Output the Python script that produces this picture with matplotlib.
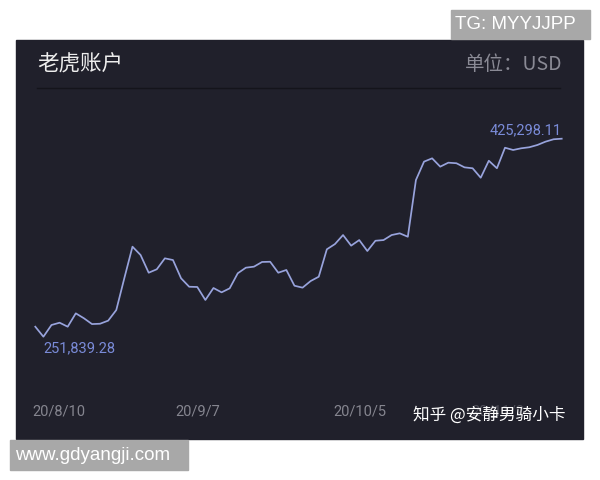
import matplotlib
matplotlib.use("Agg")
import matplotlib.pyplot as plt
from matplotlib.patches import Rectangle
from matplotlib.lines import Line2D

# account value in thousands of USD, one point per trading day
balance = [
    260.6, 251.84, 262.1, 264.1, 260.6, 272.3, 268.0, 262.9, 263.2, 265.9,
    275.2, 303.3, 330.7, 323.4, 307.9, 310.9, 320.5, 319.0, 303.0, 295.6,
    295.4, 284.0, 294.5, 290.7, 294.2, 307.4, 312.3, 313.2, 317.3, 317.5,
    307.9, 310.3, 296.5, 294.8, 300.6, 304.4, 328.4, 333.0, 340.9, 331.6,
    336.5, 326.9, 335.9, 336.5, 340.9, 342.4, 339.4, 389.1, 405.2, 408.1,
    400.8, 404.3, 403.8, 400.2, 399.4, 391.1, 406.0, 399.4, 417.4, 415.4,
    416.9, 417.8, 419.8, 422.7, 424.8, 425.29811,
]
min_label = "251,839.28"
max_label = "425,298.11"
tick_pos = [2.9, 20.1, 40.1, 57.1]
tick_labels = ["20/8/10", "20/9/7", "20/10/5", "20/11/2"]

W, H = 600, 480
panel_bg = "#20202b"
line_col = "#98a3dc"
label_col = "#7a8bd8"
cjk = ["Noto Sans CJK SC", "DejaVu Sans"]


def fx(px):
    return px / W


def fy(py):
    return 1 - py / H


fig = plt.figure(figsize=(6, 4.8), dpi=100, facecolor="white")

# dark card
fig.add_artist(Rectangle((fx(16), fy(439)), fx(583 - 16), (439 - 40) / H,
                         transform=fig.transFigure, color=panel_bg, zorder=0))
fig.add_artist(Line2D([fx(37), fx(560)], [fy(87.5), fy(87.5)],
                      transform=fig.transFigure, color="#14141b", lw=1.0))
fig.text(fx(37), fy(65), "老虎账户", family=cjk, fontsize=15.5,
         color="#ededed", va="center", ha="left")
fig.text(fx(562), fy(65), "单位：USD", family=cjk, fontsize=14,
         color="#8a8a95", va="center", ha="right")

# plot area spans first to last point
ax = fig.add_axes([fx(35.3), fy(336.7), fx(561.7 - 35.3), (336.7 - 138.7) / H])
ax.patch.set_alpha(0)
x = list(range(len(balance)))
ax.plot(x, balance, color=line_col, lw=1.25, clip_on=False)
ax.set_xlim(0, len(balance) - 1)
ax.set_ylim(min(balance), max(balance))
for s in ax.spines.values():
    s.set_visible(False)
ax.set_yticks([])
ax.set_xticks(tick_pos, tick_labels)
ax.tick_params(axis="x", length=0, pad=49, labelsize=10.5, labelcolor="#85858f")
for t in ax.get_xticklabels():
    t.set_family("Roboto")
# last date label sits under the watermark, as in the screenshot
ax.get_xticklabels()[-1].set_alpha(0.45)

i_min = balance.index(min(balance))
ax.annotate(min_label, (i_min, balance[i_min]), xytext=(0, -8),
            textcoords="offset points", ha="left", va="center",
            fontsize=10.5, family="Roboto", color=label_col)
ax.annotate(max_label, (x[-1], balance[-1]), xytext=(0, 6),
            textcoords="offset points", ha="right", va="center",
            fontsize=10.5, family="Roboto", color=label_col)

# watermarks
fig.text(fx(413), fy(415), "知乎 @安静男骑小卡", family=cjk, fontsize=12,
         color="white", va="center", ha="left", zorder=5)
fig.add_artist(Rectangle((fx(451), fy(39)), fx(590 - 451), 29 / H,
                         transform=fig.transFigure, color="#a8a8a8", zorder=0))
fig.text(fx(455), fy(24.5), "TG: MYYJJPP", family="Liberation Sans",
         fontsize=13.5, color="white", va="center", ha="left")
fig.add_artist(Rectangle((fx(10), fy(470)), fx(188 - 10), 30 / H,
                         transform=fig.transFigure, color="#a8a8a8", zorder=0))
fig.text(fx(15), fy(455), "www.gdyangji.com", family="Liberation Sans",
         fontsize=13.5, color="white", va="center", ha="left")

fig.savefig("out.png", dpi=100, facecolor="white")
